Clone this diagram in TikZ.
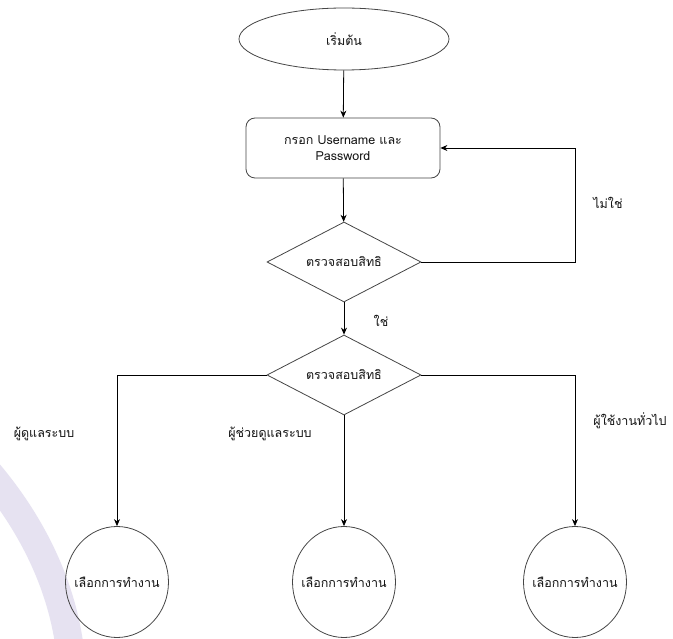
\documentclass[tikz,border=0pt]{standalone}
\usepackage{fontspec}
\setmainfont{DejaVu Sans}
\newfontfamily\thaifont[Script=Thai]{Loma}
\usetikzlibrary{arrows.meta,shapes.geometric}
\definecolor{wmark}{RGB}{230,226,241}
\definecolor{edgegray}{RGB}{70,70,70}
% text that does not widen the shape around it
\newcommand{\zerowide}[1]{\makebox[0pt]{#1}}
\begin{document}
\begin{tikzpicture}[x=1pt,y=-1pt,
  font=\thaifont\fontsize{12.5}{16}\selectfont,
  every node/.style={text=black!92},
  terminal/.style={ellipse,draw=edgegray,line width=0.8pt,minimum width=210pt,minimum height=62pt,inner sep=0pt},
  process/.style={rectangle,rounded corners=9pt,draw=edgegray,line width=0.8pt,minimum width=194pt,minimum height=60pt,align=center,inner sep=0pt},
  decision/.style={diamond,draw=edgegray,line width=0.8pt,aspect=1.925,minimum width=154pt,minimum height=80pt,inner sep=0pt},
  choice/.style={ellipse,draw=edgegray,line width=0.8pt,minimum width=103pt,minimum height=111pt,inner sep=0pt},
  flow/.style={draw=black,line width=0.8pt,-{Stealth[length=7pt,width=6pt]}},
  lbl/.style={inner sep=0pt}]
\useasboundingbox (0,0) rectangle (673,639);
\fill[white] (0,0) rectangle (673,639);
% pale decorative band in the lower left corner
\draw[wmark,line width=28pt] (-12,472) .. controls (32,524) and (62,585) .. (70,650);

% nodes
\node[terminal] (start) at (344,39) {\zerowide{เริ่มต้น}};
\node[process] (login) at (343,148) {กรอก Username และ\\Password};
\node[decision] (auth) at (344,262) {\zerowide{ตรวจสอบสิทธิ}};
\node[decision] (role) at (344,375) {\zerowide{ตรวจสอบสิทธิ}};
\node[choice] (menuA) at (117,582) {\zerowide{เลือกการทำงาน}};
\node[choice] (menuB) at (344,582) {\zerowide{เลือกการทำงาน}};
\node[choice] (menuC) at (575,582) {\zerowide{เลือกการทำงาน}};

% turning points of the connectors
\coordinate (loopR) at (575,262);
\coordinate (loopT) at (575,148);
\coordinate (leftC) at (117,375);
\coordinate (rightC) at (575,375);

% connectors
\draw[flow] (start) -- (login);
\draw[flow] (login) -- (auth);
\draw[flow] (auth.east) -- (loopR) -- (loopT) -- (login.east);
\draw[flow] (auth) -- (role);
\draw[flow] (role.west) -- (leftC) -- (menuA.north);
\draw[flow] (role.south) -- (menuB.north);
\draw[flow] (role.east) -- (rightC) -- (menuC.north);

% connector labels
\node[lbl] (no) at (608,203) {ไม่ใช่};
\node[lbl] (yes) at (381,321) {ใช่};
\node[lbl] (admin) at (44,434) {ผู้ดูแลระบบ};
\node[lbl] (assist) at (270,434) {ผู้ช่วยดูแลระบบ};
\node[lbl] (user) at (630,421) {ผู้ใช้งานทั่วไป};
\end{tikzpicture}
\end{document}
